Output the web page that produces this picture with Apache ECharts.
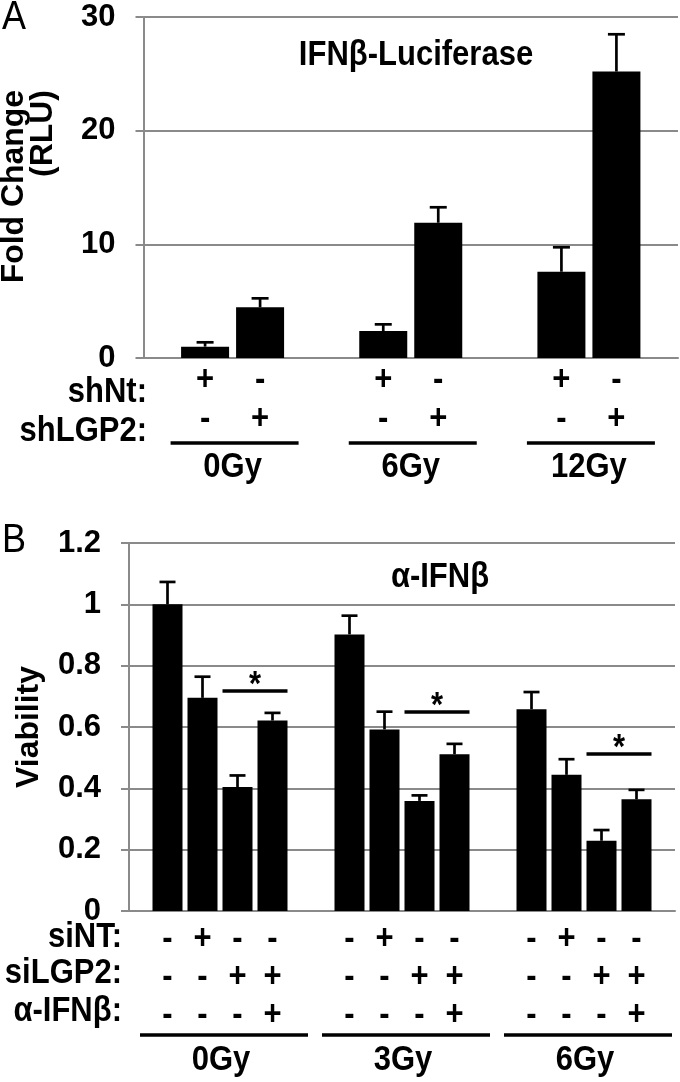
<!DOCTYPE html>
<html><head><meta charset="utf-8">
<script src="https://cdn.jsdelivr.net/npm/echarts@6/dist/echarts.min.js"></script>
<style>html,body{margin:0;padding:0;background:#fff}#c{width:680px;height:1082px}</style>
</head><body><div id="c"></div>
<script>
// ---------- Panel A data ----------
const groupsA = ['0Gy', '6Gy', '12Gy'];
const shNtVals = [1.0, 2.37, 7.59];
const shNtErr = [0.38, 0.59, 2.15];
const shLGP2Vals = [4.46, 11.9, 25.2];
const shLGP2Err = [0.79, 1.36, 3.28];
const rowNamesA = ['shNt:', 'shLGP2:'];
const rowMarksA = [['+', '-'], ['-', '+']];
const titleA = 'IFNβ-Luciferase';
const yNameA = ['Fold Change', '(RLU)'];

// ---------- Panel B data ----------
const groupsB = ['0Gy', '3Gy', '6Gy'];
const ctrlVals = [1.0, 0.902, 0.658];
const ctrlErr = [0.073, 0.061, 0.056];
const siNTVals = [0.695, 0.592, 0.444];
const siNTErr = [0.069, 0.058, 0.051];
const siLGP2Vals = [0.404, 0.359, 0.229];
const siLGP2Err = [0.038, 0.018, 0.035];
const siLGP2AbVals = [0.621, 0.511, 0.364];
const siLGP2AbErr = [0.025, 0.034, 0.031];
const sigY = [0.717, 0.649, 0.512];
const rowNamesB = ['siNT:', 'siLGP2:', 'α-IFNβ:'];
const rowMarksB = [['-', '+', '-', '-'], ['-', '-', '+', '+'], ['-', '-', '-', '+']];
const titleB = 'α-IFNβ';
const yNameB = 'Viability';

const FONT = '"Liberation Sans", Arial, Helvetica, sans-serif';
const GRAY = '#8a8a8a';
const FS = 31;
const STRETCH = 1.12;

const barWA = 48, gapA = 7;
const barWB = 30, gapB = 5;

function errSeries(xi, yi, idx, n, bw, gap, cap, vals, errs) {
  return {
    type: 'custom', xAxisIndex: xi, yAxisIndex: yi, z: 5,
    data: vals.map((v, i) => [i, v, errs[i]]),
    renderItem: function (params, api) {
      const c = api.coord([api.value(0), api.value(1)]);
      const t = api.coord([api.value(0), api.value(1) + api.value(2)]);
      const x = c[0] + (idx - (n - 1) / 2) * (bw + gap);
      const st = { stroke: '#000', lineWidth: 2.7 };
      return { type: 'group', children: [
        { type: 'line', shape: { x1: x, y1: c[1], x2: x, y2: t[1] }, style: st },
        { type: 'line', shape: { x1: x - cap / 2, y1: t[1], x2: x + cap / 2, y2: t[1] }, style: st }
      ]};
    }
  };
}

function barSeries(xi, yi, vals, bw, gap) {
  return { type: 'bar', xAxisIndex: xi, yAxisIndex: yi, data: vals, barWidth: bw,
    barGap: (gap / bw * 100) + '%', itemStyle: { color: '#000' }, silent: true };
}

const yAxisCommon = {
  type: 'value',
  axisLine: { show: true, lineStyle: { color: GRAY, width: 2 } },
  axisTick: { show: true, length: 8, lineStyle: { color: GRAY, width: 2 } },
  splitLine: { show: true, lineStyle: { color: GRAY, width: 2 } },
  axisLabel: { fontFamily: FONT, fontWeight: 'bold', fontSize: FS, color: '#000', margin: 28 }
};
const xAxisCommon = {
  type: 'category',
  axisLine: { show: true, lineStyle: { color: GRAY, width: 2 } },
  axisTick: { show: false },
  axisLabel: { show: false }
};

const chart = echarts.init(document.getElementById('c'), null, { renderer: 'canvas' });
chart.setOption({
  animation: false,
  backgroundColor: '#fff',
  grid: [
    { left: 143.5, right: 2, top: 17, height: 341 },
    { left: 129, right: 5, top: 543, height: 368 }
  ],
  xAxis: [
    Object.assign({}, xAxisCommon, { gridIndex: 0, data: groupsA }),
    Object.assign({}, xAxisCommon, { gridIndex: 1, data: groupsB })
  ],
  yAxis: [
    Object.assign({}, yAxisCommon, { gridIndex: 0, min: 0, max: 30, interval: 10 }),
    Object.assign({}, yAxisCommon, { gridIndex: 1, min: 0, max: 1.2, interval: 0.2 })
  ],
  series: [
    barSeries(0, 0, shNtVals, barWA, gapA),
    barSeries(0, 0, shLGP2Vals, barWA, gapA),
    errSeries(0, 0, 0, 2, barWA, gapA, 17, shNtVals, shNtErr),
    errSeries(0, 0, 1, 2, barWA, gapA, 17, shLGP2Vals, shLGP2Err),
    barSeries(1, 1, ctrlVals, barWB, gapB),
    barSeries(1, 1, siNTVals, barWB, gapB),
    barSeries(1, 1, siLGP2Vals, barWB, gapB),
    barSeries(1, 1, siLGP2AbVals, barWB, gapB),
    errSeries(1, 1, 0, 4, barWB, gapB, 16, ctrlVals, ctrlErr),
    errSeries(1, 1, 1, 4, barWB, gapB, 16, siNTVals, siNTErr),
    errSeries(1, 1, 2, 4, barWB, gapB, 16, siLGP2Vals, siLGP2Err),
    errSeries(1, 1, 3, 4, barWB, gapB, 16, siLGP2AbVals, siLGP2AbErr)
  ]
});

function px(gi, cat, val) {
  return chart.convertToPixel({ xAxisIndex: gi, yAxisIndex: gi }, [cat, val]);
}
function txt(x, y, s, opt, rotated) {
  const el = { type: 'text', x: x, y: y, z: 100, silent: true,
    style: Object.assign({ text: s, fill: '#000', font: 'bold ' + FS + 'px ' + FONT,
      align: 'center', verticalAlign: 'middle' }, opt || {}) };
  if (rotated) { el.rotation = Math.PI / 2; el.scaleX = 1.03; }
  else { el.scaleY = STRETCH; }
  return el;
}
function hline(x1, x2, y, w) {
  return { type: 'line', z: 100, silent: true, shape: { x1: x1, y1: y, x2: x2, y2: y },
    style: { stroke: '#000', lineWidth: w || 3.5 } };
}

const g = [];
// Panel A
g.push(txt(2, 18, 'A', { font: '36px ' + FONT, align: 'left' }));
g.push(txt(14, 90, yNameA[0], { align: 'right' }, true));
g.push(txt(43, 90, yNameA[1], { align: 'right' }, true));
g.push(txt(416, 55, titleA));
const rowYA = [392, 431], markYA = [380, 419];
rowNamesA.forEach((nm, r) => g.push(txt(147, rowYA[r], nm, { align: 'right' })));
groupsA.forEach((gn, i) => {
  const cx = px(0, i, 0)[0];
  rowMarksA.forEach((marks, r) => {
    marks.forEach((m, k) => {
      const x = cx + (k - (marks.length - 1) / 2) * (barWA + gapA);
      g.push(txt(x, markYA[r], m));
    });
  });
  g.push(hline(cx + 2 - 64, cx + 2 + 64, 443));
  g.push(txt(cx, 467, gn));
});
// Panel B
g.push(txt(2, 541, 'B', { font: '36px ' + FONT, align: 'left' }));
g.push(txt(29, 727, yNameB, {}, true));
g.push(txt(440, 577, titleB));
const rowYB = [937, 973, 1011], markYB = [939, 977, 1015];
rowNamesB.forEach((nm, r) => g.push(txt(122, rowYB[r], nm, { align: 'right' })));
groupsB.forEach((gn, i) => {
  const cx = px(1, i, 0)[0];
  rowMarksB.forEach((marks, r) => {
    marks.forEach((m, k) => {
      const x = cx + (k - (marks.length - 1) / 2) * (barWB + gapB);
      g.push(txt(x, markYB[r], m));
    });
  });
  g.push(hline(cx + 4 - 84, cx + 4 + 84, 1035));
  g.push(txt(cx + 1, 1060, gn));
  // significance bar spanning bars 3 and 4
  const p = px(1, i, sigY[i]);
  const center = p[0] + 1 * (barWB + gapB);
  const half = barWB + gapB / 2;
  g.push(hline(center - half, center + half, p[1]));
  g.push(txt(center, p[1] - 6, '*'));
});
chart.setOption({ graphic: g });
</script>
</body></html>
